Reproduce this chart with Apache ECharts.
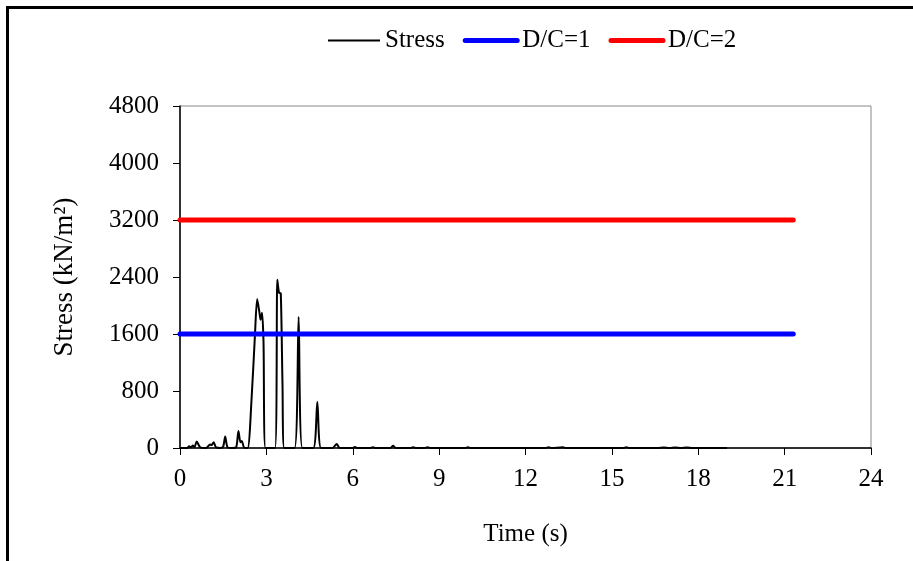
<!DOCTYPE html>
<html>
<head>
<meta charset="utf-8">
<script src="https://cdn.jsdelivr.net/npm/echarts@6/dist/echarts.min.js"></script>
<style>html,body{margin:0;padding:0;background:#fff}#c{width:913px;height:561px}</style>
</head>
<body>
<div id="c"></div>
<script>
// ---- data ----
var stressTime = [0,0.25,0.32,0.38,0.45,0.5,0.58,0.7,0.9,1.05,1.1,1.17,1.25,1.4,1.5,1.57,1.65,1.8,1.95,2.03,2.1,2.15,2.22,2.35,
  2.49,2.6,2.68,2.76,2.8,2.85,2.9,2.97,3.3,3.38,3.44,3.5,3.56,3.62,3.98,4.12,4.25,4.63,4.77,4.9,5.3,5.44,5.55,6.0,6.08,6.15,
  6.6,6.7,6.8,7.3,7.4,7.5,8.0,8.1,8.2,8.5,8.6,8.7,9.9,10.0,10.1,12.7,12.8,12.9,13.3,13.4,15.4,15.5,15.6,16.6,16.8,17.0,17.2,17.4,17.6,17.8,19.0];
var stressValue = [0,0,25,10,35,10,90,10,0,50,40,80,10,0,20,160,10,0,10,240,80,100,10,0,
  720,1560,2090,1900,1800,1900,1500,0,0,2360,2180,2170,900,0,0,1840,0,0,650,0,0,56,0,0,15,0,
  0,12,0,0,30,0,0,12,0,0,10,0,0,12,0,0,10,0,10,0,0,10,0,0,8,0,8,0,8,0,0];
var dcTime = [0, 21.3];
var dc1Value = [1600, 1600];
var dc2Value = [3200, 3200];
var seriesNames = ['Stress', 'D/C=1', 'D/C=2'];
var xTicks = {min: 0, max: 24, interval: 3};
var yTicks = {min: 0, max: 4800, interval: 800};

function pairs(xs, ys) { return xs.map(function (x, i) { return [x, ys[i]]; }); }

var FONT = 'Liberation Serif';
var FS = 25;
var chart = echarts.init(document.getElementById('c'), null, {renderer: 'canvas'});
chart.setOption({
  animation: false,
  backgroundColor: '#fff',
  textStyle: {fontFamily: FONT, color: '#000'},
  graphic: [
    {type: 'line', shape: {x1: 6, y1: 7.5, x2: 913, y2: 7.5}, style: {stroke: '#000', lineWidth: 3}},
    {type: 'line', shape: {x1: 7.5, y1: 6, x2: 7.5, y2: 561}, style: {stroke: '#000', lineWidth: 3}}
  ],
  legend: {
    top: 23, left: 322,
    itemWidth: 52, itemHeight: 10, itemGap: 18,
    itemStyle: {opacity: 0},
    textStyle: {fontFamily: FONT, fontSize: FS, color: '#000'},
    data: [
      {name: seriesNames[0], lineStyle: {width: 2}},
      {name: seriesNames[1], lineStyle: {width: 5, cap: 'round'}},
      {name: seriesNames[2], lineStyle: {width: 5, cap: 'round'}}
    ]
  },
  grid: {left: 180, right: 42, top: 106, bottom: 113, show: true, borderColor: '#888', borderWidth: 1, containLabel: false},
  xAxis: {
    type: 'value', min: xTicks.min, max: xTicks.max, interval: xTicks.interval,
    name: 'Time (s)', nameLocation: 'middle', nameGap: 74,
    nameTextStyle: {fontFamily: FONT, fontSize: FS, color: '#000'},
    axisLine: {show: true, onZero: false, lineStyle: {color: '#000', width: 1.5}},
    axisTick: {show: true, inside: false, length: 7, lineStyle: {color: '#000'}},
    axisLabel: {fontFamily: FONT, fontSize: FS, color: '#000', margin: 19},
    splitLine: {show: false}
  },
  yAxis: {
    type: 'value', min: yTicks.min, max: yTicks.max, interval: yTicks.interval,
    name: 'Stress (kN/m²)', nameLocation: 'middle', nameGap: 102,
    nameTextStyle: {fontFamily: FONT, fontSize: 27, color: '#000'},
    axisLine: {show: true, lineStyle: {color: '#000', width: 1.5}},
    axisTick: {show: true, inside: false, length: 7, lineStyle: {color: '#000'}},
    axisLabel: {fontFamily: FONT, fontSize: FS, color: '#000', margin: 21, formatter: function (v) { return String(v); }},
    splitLine: {show: false}
  },
  series: [
    {name: seriesNames[0], type: 'line', data: pairs(stressTime, stressValue), symbol: 'none', smooth: 0.25,
     lineStyle: {color: '#000', width: 2}, itemStyle: {color: '#000'}, z: 2},
    {name: seriesNames[1], type: 'line', data: pairs(dcTime, dc1Value), symbol: 'none',
     lineStyle: {color: '#0000ff', width: 5, cap: 'round'}, itemStyle: {color: '#0000ff'}, z: 3},
    {name: seriesNames[2], type: 'line', data: pairs(dcTime, dc2Value), symbol: 'none',
     lineStyle: {color: '#ff0000', width: 5, cap: 'round'}, itemStyle: {color: '#ff0000'}, z: 3}
  ]
});
</script>
</body>
</html>
